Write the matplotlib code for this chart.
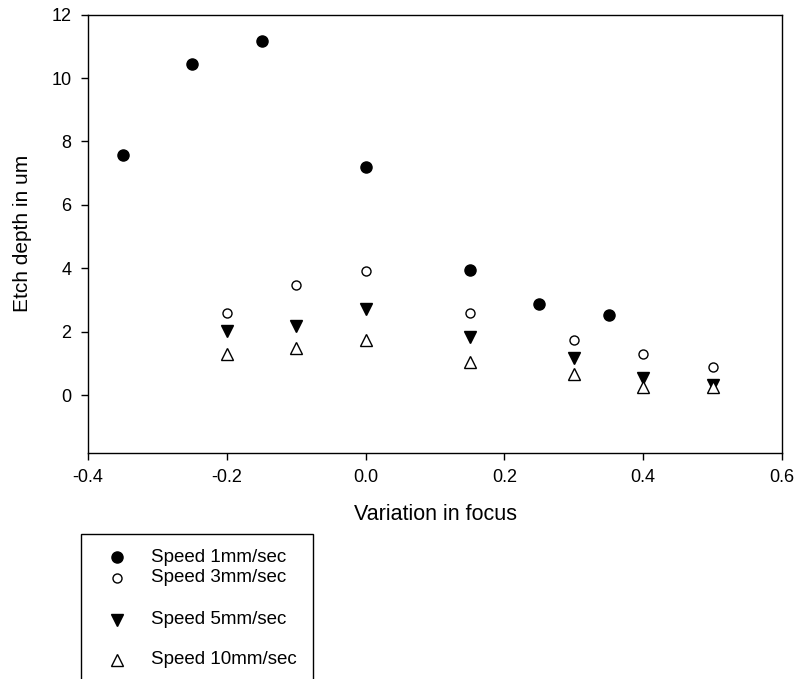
import numpy as np
import matplotlib.pyplot as plt
from matplotlib.patches import Rectangle
from matplotlib.lines import Line2D

plt.rcParams["font.family"] = ["Liberation Sans", "DejaVu Sans"]

# Daten
x_1mm  = [-0.35, -0.25, -0.15, 0.0, 0.15, 0.25, 0.35]
y_1mm  = [7.57, 10.45, 11.16, 7.21, 3.96, 2.87, 2.53]

x_rest  = [-0.2, -0.1, 0.0, 0.15, 0.3, 0.4, 0.5]
y_3mm   = [2.60, 3.48, 3.90, 2.60, 1.74, 1.30, 0.88]
y_5mm   = [2.03, 2.19, 2.71, 1.84, 1.16, 0.55, 0.32]
y_10mm  = [1.30, 1.47, 1.74, 1.05, 0.65, 0.26, 0.26]

labels = ["Speed 1mm/sec", "Speed 3mm/sec", "Speed 5mm/sec", "Speed 10mm/sec"]

# Stil je Reihe
styles = [
    dict(marker="o", ms=8.0, mfc="black", mec="black", mew=1.0),
    dict(marker="o", ms=6.5, mfc="white", mec="black", mew=1.0),
    dict(marker="v", ms=8.5, mfc="black", mec="black", mew=1.0),
    dict(marker="^", ms=8.5, mfc="white", mec="black", mew=1.0),
]

fig = plt.figure(figsize=(7.98, 6.79), dpi=100)
ax = fig.add_axes([88 / 798, 1 - 452.7 / 679, (782 - 88) / 798, (452.7 - 14.7) / 679])

series = [(x_1mm, y_1mm), (x_rest, y_3mm), (x_rest, y_5mm), (x_rest, y_10mm)]
for (xs, ys), st, lab in zip(series, styles, labels):
    ax.plot(xs, ys, linestyle="none", label=lab, **st)

ax.set_xlim(-0.4, 0.6)
ax.set_ylim(-1.82, 12)
ax.set_xticks([-0.4, -0.2, 0.0, 0.2, 0.4, 0.6])
ax.set_xticklabels(["-0.4", "-0.2", "0.0", "0.2", "0.4", "0.6"])
ax.set_yticks([0, 2, 4, 6, 8, 10, 12])
ax.tick_params(direction="out", length=5, width=1, labelsize=13, pad=7)
for sp in ax.spines.values():
    sp.set_linewidth(1.0)

ax.set_xlabel("Variation in focus", fontsize=15.5, labelpad=13)
ax.set_ylabel("Etch depth in um", fontsize=15, labelpad=14)

# Legende manuell (Kasten unten links, ungleiche Abstaende wie im Original)
leg_x0, leg_x1, leg_top = 81 / 798, 313 / 798, 1 - 534 / 679
fig.add_artist(Rectangle((leg_x0, -0.05), leg_x1 - leg_x0, leg_top + 0.05,
                         transform=fig.transFigure, fill=False, ec="black", lw=1.0))
leg_rows = [557, 578, 620, 660]
for row, st, lab in zip(leg_rows, styles, labels):
    yy = 1 - row / 679
    fig.add_artist(Line2D([117 / 798], [yy], transform=fig.transFigure, linestyle="none", **st))
    fig.text(151 / 798, yy, lab, fontsize=13.5, va="center", ha="left")

fig.savefig("out.png", dpi=100)
